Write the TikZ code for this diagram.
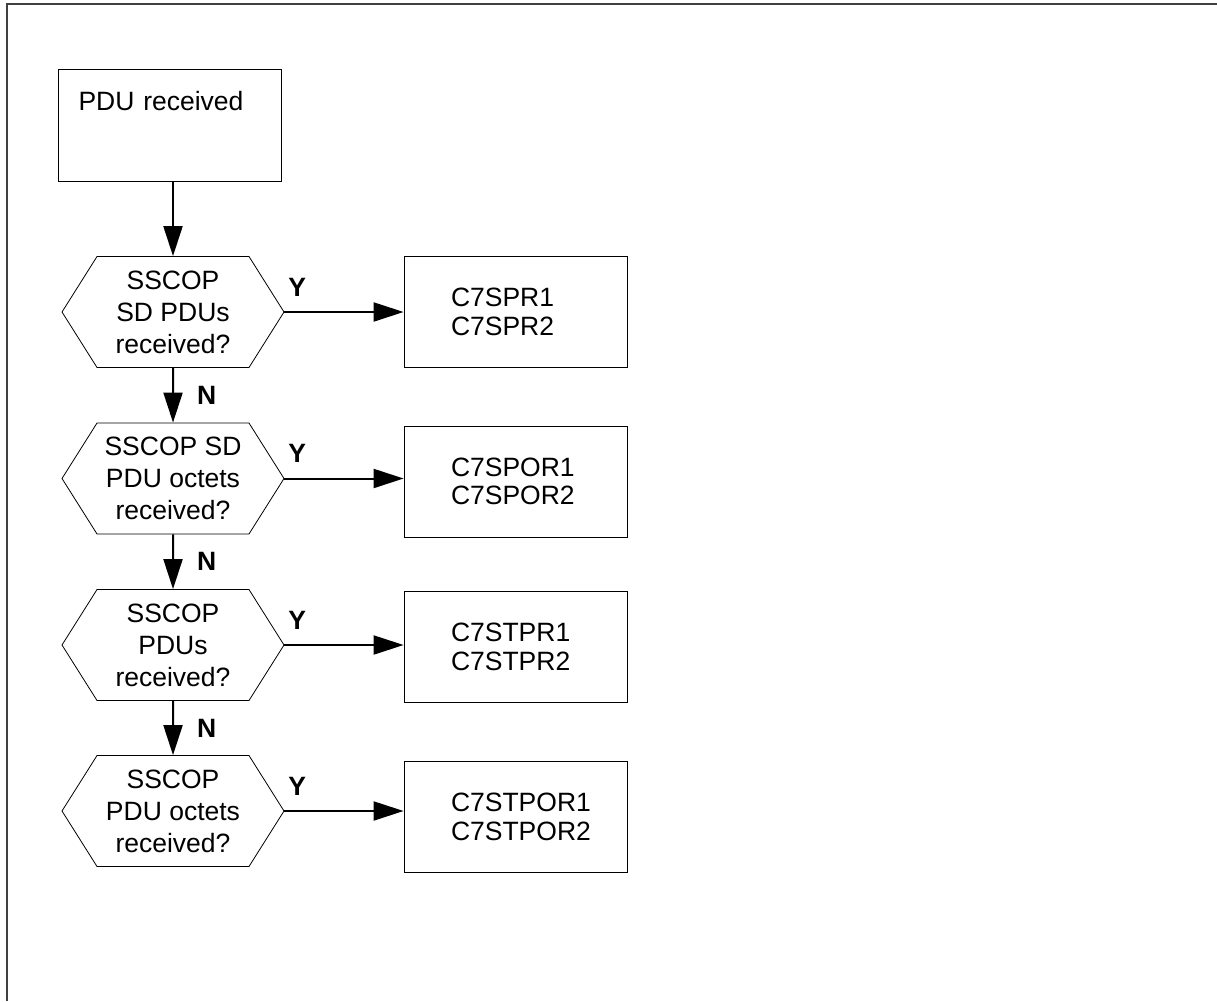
\documentclass[tikz,border=0pt]{standalone}
\usepackage{fontspec}
\setmainfont{Liberation Sans}
\usetikzlibrary{positioning,arrows.meta,shapes.symbols,calc}
\hfuzz=30pt

\begin{document}
\begin{tikzpicture}[
  x=1pt, y=-1pt,
  font=\fontsize{26.5}{32}\selectfont,
  frm/.style={draw=black!75, line width=2pt},
  startbox/.style={draw, line width=0.8pt, minimum width=223pt, minimum height=112pt, inner xsep=20pt, inner ysep=22pt, text width=183pt, align=left, text height=19pt, text depth=49pt},
  cntbox/.style={draw, line width=0.8pt, minimum width=223pt, minimum height=111pt, inner xsep=47pt, text width=129pt, align=left, font=\fontsize{26.5}{28.5}\selectfont},
  ask/.style={draw, line width=0.8pt, shape=signal, signal to=west and east, signal pointer angle=115.5, minimum width=222pt, minimum height=111pt, inner sep=0pt, align=center},
  arr/.style={-{Triangle[length=30pt,width=19pt]}, line width=2pt},
  lab/.style={font=\fontsize{26.5}{32}\selectfont\bfseries, inner sep=3pt},
]
  \useasboundingbox (0,0) rectangle (1217,1001);
  % page frame
  \draw[frm] (6.5,1001) -- (6.5,3.5) -- (1217,3.5);
  % start
  \node[startbox] (pdu) at (170,125.5) {PDU received};
  % decision chain
  \node[ask] (q1) at (173,312)   {SSCOP\\SD PDUs\\received?};
  \node[ask] (q2) at (173,478.5) {SSCOP SD\\PDU octets\\received?};
  \node[ask] (q3) at (173,645)   {SSCOP\\PDUs\\received?};
  \node[ask] (q4) at (173,811)   {SSCOP\\PDU octets\\received?};
  % registers
  \node[cntbox] (r1) at (515.5,312)   {C7SPR1\\C7SPR2};
  \node[cntbox] (r2) at (515.5,481.5) {C7SPOR1\\C7SPOR2};
  \node[cntbox] (r3) at (515.5,647)   {C7STPR1\\C7STPR2};
  \node[cntbox] (r4) at (515.5,817)   {C7STPOR1\\C7STPOR2};
  \draw[arr] (q1.north |- pdu.south) -- (q1.north);
  \draw[arr] (q1) -- node[lab, right=20pt]{N} (q2);
  \draw[arr] (q2) -- node[lab, right=20pt]{N} (q3);
  \draw[arr] (q3) -- node[lab, right=20pt]{N} (q4);
  \foreach \i in {1,...,4}
    \draw[arr] (q\i.east) -- node[lab, pos=0, anchor=south west, yshift=12pt]{Y} (q\i.east -| r\i.west);
\end{tikzpicture}
\end{document}
